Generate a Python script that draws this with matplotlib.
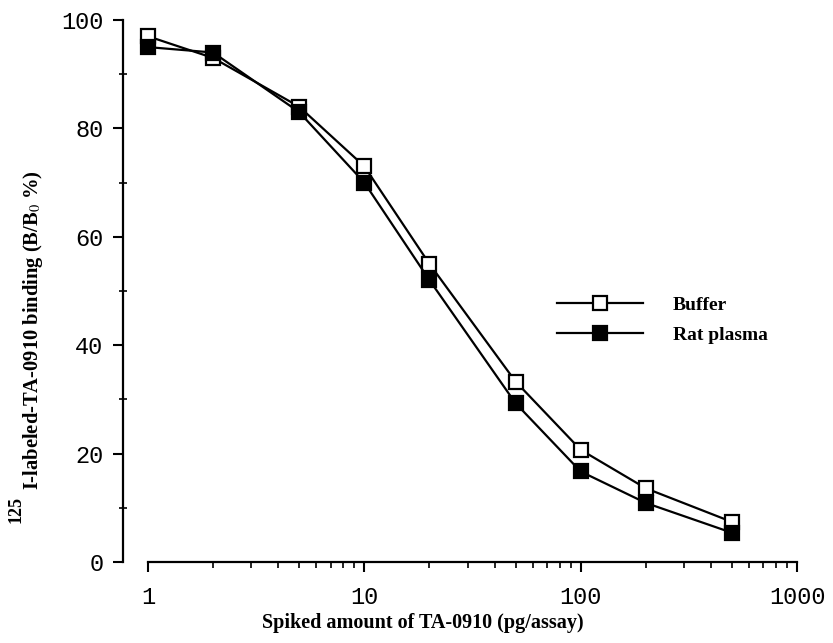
import numpy as np
import matplotlib

matplotlib.use("Agg")
import matplotlib.pyplot as plt
from matplotlib.ticker import FixedLocator, NullFormatter

# spiked amount (pg/assay)
dose = [1, 2, 5, 10, 20, 50, 100, 200, 500]
# B/B0 %
buffer_vals = [97.0, 93.0, 84.0, 73.0, 55.0, 33.3, 20.7, 13.6, 7.4]
plasma_vals = [95.0, 94.0, 83.0, 70.0, 52.0, 29.3, 16.7, 10.9, 5.4]

x_ticks = [1, 10, 100, 1000]
y_ticks = [0, 20, 40, 60, 80, 100]

plt.rcParams["mathtext.fontset"] = "stix"

fig = plt.figure(figsize=(8.33, 6.43), dpi=100)
ax = fig.add_axes([148 / 833, 1 - 562 / 643, 649 / 833, 542 / 643])

ax.plot(dose, buffer_vals, color="black", lw=1.6, marker="s", ms=10,
        mfc="white", mec="black", mew=1.6, label="Buffer", clip_on=False)
ax.plot(dose, plasma_vals, color="black", lw=1.6, marker="s", ms=10,
        mfc="black", mec="black", mew=1.6, label="Rat plasma", clip_on=False)

ax.set_xscale("log")
ax.set_xlim(1, 1000)
ax.set_ylim(0, 100)

ax.spines["top"].set_visible(False)
ax.spines["right"].set_visible(False)
ax.spines["left"].set_position(("outward", 18))
ax.spines["left"].set_linewidth(1.6)
ax.spines["bottom"].set_linewidth(1.6)

ax.xaxis.set_major_locator(FixedLocator(x_ticks))
ax.set_xticklabels([str(t) for t in x_ticks])
minors = [m * d for d in [1, 10, 100] for m in range(2, 10)]
ax.xaxis.set_minor_locator(FixedLocator(minors))
ax.xaxis.set_minor_formatter(NullFormatter())
ax.set_yticks(y_ticks)
ax.set_yticks([10, 30, 50, 70, 90], minor=True)

ax.tick_params(axis="both", which="major", direction="out", length=7, width=1.5,
               labelsize=17)
ax.tick_params(axis="y", which="major", pad=7)
ax.tick_params(axis="x", which="major", pad=10)
ax.tick_params(axis="x", which="minor", direction="out", length=4, width=1.2)
ax.tick_params(axis="y", which="minor", direction="inout", length=6, width=1.2)
for lbl in ax.get_xticklabels() + ax.get_yticklabels():
    lbl.set_family("Liberation Mono")

ax.set_xlabel("Spiked amount of TA-0910 (pg/assay)", family="Liberation Serif",
              weight="bold", fontsize=14.5)
ax.xaxis.set_label_coords(0.424, -0.094)

# y label with the large "125" prefix set as its own text
fig.text(33 / 833, 1 - 490 / 643, r"I-labeled-TA-0910 binding (B/B$_0$ %)",
         rotation=90, ha="center", va="bottom", family="Liberation Serif",
         weight="bold", fontsize=14.8)
fig.text(16 / 833, 1 - 496 / 643, "125", rotation=90, ha="center", va="top",
         family="Liberation Serif", weight="bold", fontsize=13)

ax.legend(loc="upper left", bbox_to_anchor=(557 / 833, 1 - 296 / 643),
          bbox_transform=fig.transFigure, frameon=False, numpoints=1,
          handlelength=4.4, handletextpad=1.55, labelspacing=0.65,
          borderpad=0, borderaxespad=0,
          prop={"family": "Liberation Serif", "weight": "bold", "size": 14})

fig.savefig("out.png", dpi=100)
